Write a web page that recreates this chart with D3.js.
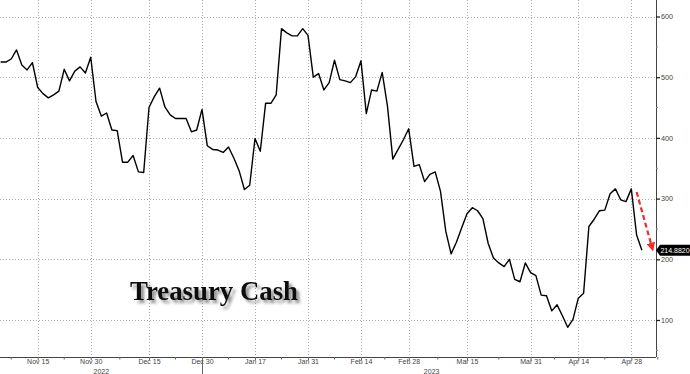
<!DOCTYPE html>
<html>
<head>
<meta charset="utf-8">
<script src="https://cdn.jsdelivr.net/npm/d3@7"></script>
<style>
body { margin: 0; background: #fff; }
svg { display: block; }
</style>
</head>
<body>
<svg id="chart" width="690" height="374"></svg>
<script>
// trading days (weekends and federal holidays skipped, like the terminal chart)
var startDate = "2022-11-03", endDate = "2023-05-02";
var holidays = ["2022-11-11", "2022-11-24", "2022-12-26", "2023-01-02", "2023-01-16", "2023-02-20", "2023-04-07"];

// Treasury cash balance, $bn, one value per trading day
var cashValues = [
  525, 525, 530, 545, 520, 512, 524, 483, 473, 466,
  471, 477, 513, 494, 510, 517, 507, 533, 460, 436,
  441, 413, 412, 360, 360, 371, 344, 343, 450, 468,
  482, 451, 438, 432, 432, 432, 410, 413, 447, 387,
  381, 380, 376, 385, 367, 346, 315, 322, 399, 378,
  457, 457, 471, 580, 573, 568, 568, 580, 569, 500,
  506, 479, 491, 528, 496, 494, 491, 501, 527, 440,
  479, 477, 508, 452, 365, 381, 397, 415, 353, 356,
  328, 340, 344, 312, 246, 209, 228, 252, 275, 285,
  280, 267, 226, 202, 194, 188, 200, 167, 163, 194,
  178, 173, 141, 140, 115, 125, 107, 88, 101, 136,
  144, 254, 266, 280, 281, 308, 316, 298, 295, 316,
  240, 214.882
];

var tickDates = ["2022-11-15", "2022-11-30", "2022-12-15", "2022-12-30", "2023-01-17", "2023-01-31",
                 "2023-02-14", "2023-02-28", "2023-03-15", "2023-03-31", "2023-04-14", "2023-04-28"];
var yTicks = [100, 200, 300, 400, 500, 600];
var yMinorTicks = [50, 150, 250, 350, 450, 550];
var yearLabels = [{year: "2022", from: "2022-11-03", to: "2022-12-30"},
                  {year: "2023", from: "2023-01-03", to: "2023-05-02"}];
var chartTitle = "Treasury Cash";
var lastLabel = "214.8820";

var parse = d3.timeParse("%Y-%m-%d"),
    fmt = d3.timeFormat("%Y-%m-%d"),
    tickFmt = d3.timeFormat("%b %-d");

var days = d3.timeDay.range(parse(startDate), d3.timeDay.offset(parse(endDate), 1))
    .filter(function (d) { return d.getDay() % 6 !== 0 && holidays.indexOf(fmt(d)) < 0; });
var dayKeys = days.map(fmt);
var data = days.map(function (d, i) { return {i: i, date: d, v: cashValues[i]}; });

var svg = d3.select("svg#chart"),
    width = +svg.attr("width"),
    height = +svg.attr("height");
var axisX = 656, axisY = 357;

var x = d3.scaleLinear().domain([0, days.length - 1]).range([0.6, 641.9]);
var y = d3.scaleLinear().domain([100, 600]).range([320, 16.5]);

var tickIdx = tickDates.map(function (d) { return dayKeys.indexOf(d); });
var minorIdx = [tickIdx[0] - 5];
for (var k = 1; k < tickIdx.length; k++) minorIdx.push((tickIdx[k - 1] + tickIdx[k]) / 2);
minorIdx.push(tickIdx[tickIdx.length - 1] + 5);

// drop shadow for the title
var defs = svg.append("defs");
defs.append("filter").attr("id", "shadow")
    .attr("x", "-10%").attr("y", "-30%").attr("width", "130%").attr("height", "170%")
  .append("feDropShadow")
    .attr("dx", 3).attr("dy", 3).attr("stdDeviation", 1.8)
    .attr("flood-color", "#333").attr("flood-opacity", 0.55);
defs.append("marker").attr("id", "arrowhead")
    .attr("viewBox", "0 0 10 10").attr("refX", 5).attr("refY", 5)
    .attr("markerWidth", 4).attr("markerHeight", 4)
    .attr("orient", "auto")
  .append("path").attr("d", "M0,0L10,5L0,10z").attr("fill", "#ee2b2b");

// gridlines
var grid = svg.append("g");
grid.selectAll("line.h").data(yTicks).enter().append("line")
    .attr("x1", 0).attr("x2", axisX)
    .attr("y1", function (d) { return Math.round(y(d)) + 0.5; })
    .attr("y2", function (d) { return Math.round(y(d)) + 0.5; })
    .attr("stroke", "#aaa").attr("stroke-dasharray", "1,2");
grid.selectAll("line.v").data(tickIdx).enter().append("line")
    .attr("x1", function (d) { return Math.round(x(d)) + 0.5; })
    .attr("x2", function (d) { return Math.round(x(d)) + 0.5; })
    .attr("y1", 0).attr("y2", axisY)
    .attr("stroke", "#aaa").attr("stroke-dasharray", "1,2");

// bottom axis
var xAxis = svg.append("g")
    .attr("transform", "translate(0," + axisY + ")")
    .call(d3.axisBottom(x).tickValues(tickIdx).tickSize(3).tickSizeOuter(0)
        .tickFormat(function (d) { return tickFmt(days[d]); }));
xAxis.select(".domain").attr("d", "M0,0.5H" + axisX).attr("stroke", "#444");
xAxis.selectAll(".tick line").attr("stroke", "#666");
xAxis.selectAll(".tick text").attr("y", 2.2)
    .attr("font-family", "Liberation Sans, Arial, sans-serif")
    .attr("font-size", 7).attr("fill", "#444");
svg.append("g").selectAll("line").data(minorIdx).enter().append("line")
    .attr("x1", function (d) { return x(d); }).attr("x2", function (d) { return x(d); })
    .attr("y1", axisY).attr("y2", axisY + 2.5)
    .attr("stroke", "#666");

// year labels and divider
svg.append("line")
    .attr("x1", Math.round(x(dayKeys.indexOf("2022-12-30"))) + 0.5)
    .attr("x2", Math.round(x(dayKeys.indexOf("2022-12-30"))) + 0.5)
    .attr("y1", axisY).attr("y2", height)
    .attr("stroke", "#666");
svg.append("g").selectAll("text").data(yearLabels).enter().append("text")
    .attr("x", function (d) {
        var a = Math.max(0, x(dayKeys.indexOf(d.from)));
        var b = Math.min(axisX, d.year === "2023" ? axisX : x(dayKeys.indexOf(d.to)));
        return (a + b) / 2;
    })
    .attr("y", 374)
    .attr("text-anchor", "middle")
    .attr("font-family", "Liberation Sans, Arial, sans-serif")
    .attr("font-size", 7).attr("fill", "#444")
    .text(function (d) { return d.year; });

// right axis
var yAxis = svg.append("g")
    .attr("transform", "translate(" + axisX + ",0)")
    .call(d3.axisRight(y).tickValues(yTicks).tickSize(4).tickSizeOuter(0));
yAxis.select(".domain").attr("d", "M0.5,0V" + axisY).attr("stroke", "#444");
yAxis.selectAll(".tick line").attr("stroke", "#222").attr("stroke-width", 1.3);
yAxis.selectAll(".tick text").attr("x", 5)
    .attr("font-family", "Liberation Sans, Arial, sans-serif")
    .attr("font-size", 7.2).attr("fill", "#444");
svg.append("g").selectAll("line").data(yMinorTicks).enter().append("line")
    .attr("x1", axisX).attr("x2", axisX + 2)
    .attr("y1", function (d) { return y(d); }).attr("y2", function (d) { return y(d); })
    .attr("stroke", "#888");

// the series
var line = d3.line()
    .x(function (d) { return x(d.i); })
    .y(function (d) { return y(d.v); });
svg.append("path")
    .datum(data)
    .attr("d", line)
    .attr("fill", "none")
    .attr("stroke", "#000")
    .attr("stroke-width", 1.4)
    .attr("stroke-linejoin", "round");

// red dashed arrow pointing at the drop
svg.append("line")
    .attr("x1", x(120)).attr("y1", y(311))
    .attr("x2", x(122.9)).attr("y2", y(220))
    .attr("stroke", "#ee2b2b").attr("stroke-width", 2.2)
    .attr("stroke-dasharray", "5,3")
    .attr("marker-end", "url(#arrowhead)");

// last value tag
var last = data[data.length - 1];
var ly = y(last.v);
var tag = svg.append("g").attr("transform", "translate(" + axisX + "," + ly + ")");
tag.append("path")
    .attr("d", "M0,0L4,-5.5H34V5.5H4Z")
    .attr("fill", "#000");
tag.append("text")
    .attr("x", 19).attr("y", 2.6)
    .attr("text-anchor", "middle")
    .attr("font-family", "Liberation Sans, Arial, sans-serif")
    .attr("font-size", 7).attr("fill", "#fff")
    .text(lastLabel);

// title
svg.append("text")
    .attr("x", 130).attr("y", 300)
    .attr("font-family", "Liberation Serif, Times New Roman, serif")
    .attr("font-weight", "bold")
    .attr("font-size", 28)
    .attr("textLength", 168)
    .attr("lengthAdjust", "spacingAndGlyphs")
    .attr("fill", "#111")
    .attr("filter", "url(#shadow)")
    .text(chartTitle);
</script>
</body>
</html>
